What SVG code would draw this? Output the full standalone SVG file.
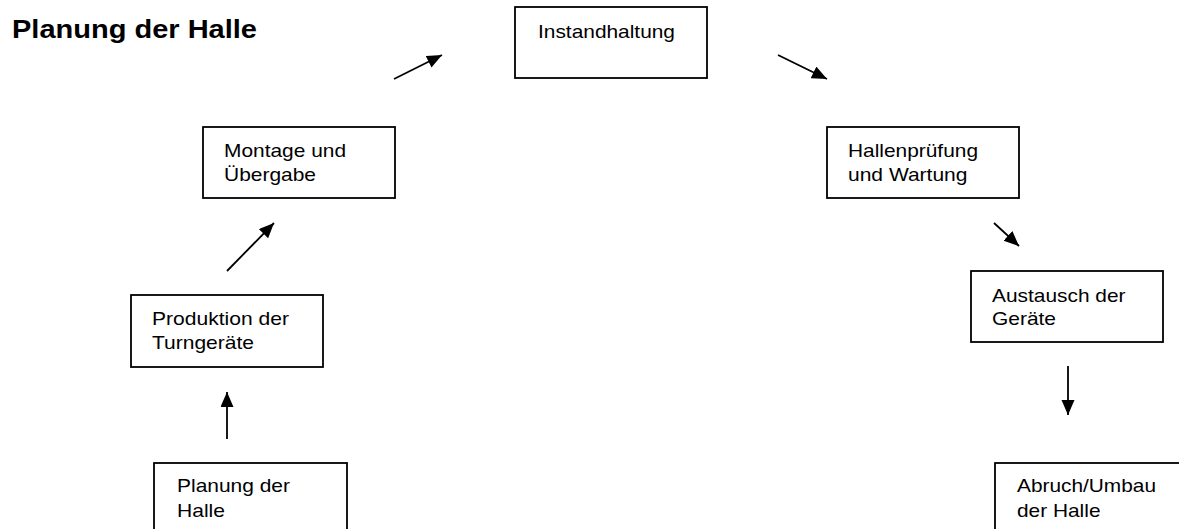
<svg xmlns="http://www.w3.org/2000/svg" width="1179" height="529" viewBox="0 0 1179 529">
  <style>
    .box { fill: #ffffff; stroke: #000000; stroke-width: 1.8; }
    .lbl { font-family: "Liberation Sans", Arial, sans-serif; font-size: 19px; fill: #000000; }
    .title { font-family: "Liberation Sans", Arial, sans-serif; font-size: 25px; font-weight: bold; fill: #000000; }
    .conn { stroke: #000000; stroke-width: 1.8; fill: none; marker-end: url(#ah); }
  </style>
  <defs>
    <marker id="ah" markerUnits="userSpaceOnUse" markerWidth="16" markerHeight="14" refX="15" refY="6.5" orient="auto">
      <path d="M0,0 L15,6.5 L0,13 z" fill="#000000"/>
    </marker>
  </defs>
  <rect x="0" y="0" width="1179" height="529" fill="#ffffff"/>

  <text class="title" x="12" y="37.5" textLength="245" lengthAdjust="spacingAndGlyphs">Planung der Halle</text>

  <g id="node-instandhaltung">
    <rect class="box" x="515" y="7" width="192" height="71"/>
    <text class="lbl" x="538" y="38" textLength="137" lengthAdjust="spacingAndGlyphs">Instandhaltung</text>
  </g>
  <g id="node-montage">
    <rect class="box" x="203" y="127" width="192" height="71"/>
    <text class="lbl" x="224" y="157" textLength="122" lengthAdjust="spacingAndGlyphs">Montage und</text>
    <text class="lbl" x="224" y="180.5" textLength="92" lengthAdjust="spacingAndGlyphs">Übergabe</text>
  </g>
  <g id="node-produktion">
    <rect class="box" x="131" y="295" width="192" height="72"/>
    <text class="lbl" x="152" y="325" textLength="137" lengthAdjust="spacingAndGlyphs">Produktion der</text>
    <text class="lbl" x="152" y="349" textLength="102" lengthAdjust="spacingAndGlyphs">Turngeräte</text>
  </g>
  <g id="node-planung">
    <rect class="box" x="154" y="463" width="193" height="80"/>
    <text class="lbl" x="177" y="492" textLength="113" lengthAdjust="spacingAndGlyphs">Planung der</text>
    <text class="lbl" x="177" y="516.5" textLength="48" lengthAdjust="spacingAndGlyphs">Halle</text>
  </g>
  <g id="node-hallenpruefung">
    <rect class="box" x="827" y="127" width="192" height="71"/>
    <text class="lbl" x="848" y="157" textLength="130" lengthAdjust="spacingAndGlyphs">Hallenprüfung</text>
    <text class="lbl" x="848" y="181" textLength="119.5" lengthAdjust="spacingAndGlyphs">und Wartung</text>
  </g>
  <g id="node-austausch">
    <rect class="box" x="971" y="271" width="192" height="71"/>
    <text class="lbl" x="992" y="301.5" textLength="133.5" lengthAdjust="spacingAndGlyphs">Austausch der</text>
    <text class="lbl" x="992" y="325" textLength="64" lengthAdjust="spacingAndGlyphs">Geräte</text>
  </g>
  <g id="node-abruch">
    <rect class="box" x="995" y="463" width="200" height="80"/>
    <text class="lbl" x="1017" y="492" textLength="139" lengthAdjust="spacingAndGlyphs">Abruch/Umbau</text>
    <text class="lbl" x="1017" y="516.5" textLength="83.5" lengthAdjust="spacingAndGlyphs">der Halle</text>
  </g>

  <g id="connectors">
    <path class="conn" d="M227,439 L227,392"/>
    <path class="conn" d="M227,271 L274,223"/>
    <path class="conn" d="M394,79 L442,55"/>
    <path class="conn" d="M778,55 L827,79"/>
    <path class="conn" d="M994,223 L1019,246"/>
    <path class="conn" d="M1068,366 L1068,415"/>
  </g>
</svg>
